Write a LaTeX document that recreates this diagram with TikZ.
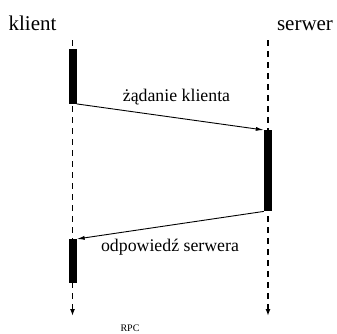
\documentclass[tikz,border=0pt]{standalone}
\usepackage{fontspec}
\setmainfont{Liberation Serif}
\usetikzlibrary{arrows.meta}
\begin{document}
\begin{tikzpicture}[x=1pt,y=-1pt,
  lifeline/.style={line width=1.6pt,dash pattern=on 6pt off 5pt,-{Latex[length=7pt,width=5pt]}},
  actbar/.style={fill=black,draw=none,minimum width=8pt,inner sep=0pt,anchor=north},
  msg/.style={line width=0.9pt,-{Latex[length=8pt,width=4pt]}},
  head/.style={font=\fontsize{21}{24}\selectfont,anchor=base,inner sep=0pt},
  lbl/.style={font=\fontsize{17.8}{20}\selectfont,anchor=base,inner sep=0pt}]
\useasboundingbox (0,0) rectangle (337,333);
\node[head] (kl) at (32.5,30.5) {klient};
\node[head] (sv) at (305,30.5) {serwer};
\coordinate (ktop) at (72.5,40);
\coordinate (kbot) at (72.5,316);
\coordinate (stop) at (268,40);
\coordinate (sbot) at (268,316);
\draw[lifeline] (ktop) -- (kbot);
\draw[lifeline] (stop) -- (sbot);
\node[actbar,minimum height=55pt] (b1) at (72.5,48.5) {};
\node[actbar,minimum height=81pt] (b2) at (268,130) {};
\node[actbar,minimum height=44pt] (b3) at (72.5,239) {};
\draw[msg] (b1.south east) -- (b2.north west);
\draw[msg] (b2.south west) -- (b3.north east);
\node[lbl] (l1) at (176.5,101.5) {żądanie klienta};
\node[lbl] (l2) at (170,251) {odpowiedź serwera};
\node[font=\fontsize{10}{12}\selectfont,anchor=base,inner sep=0pt] (rpc) at (130,331.5) {RPC};
\end{tikzpicture}
\end{document}
